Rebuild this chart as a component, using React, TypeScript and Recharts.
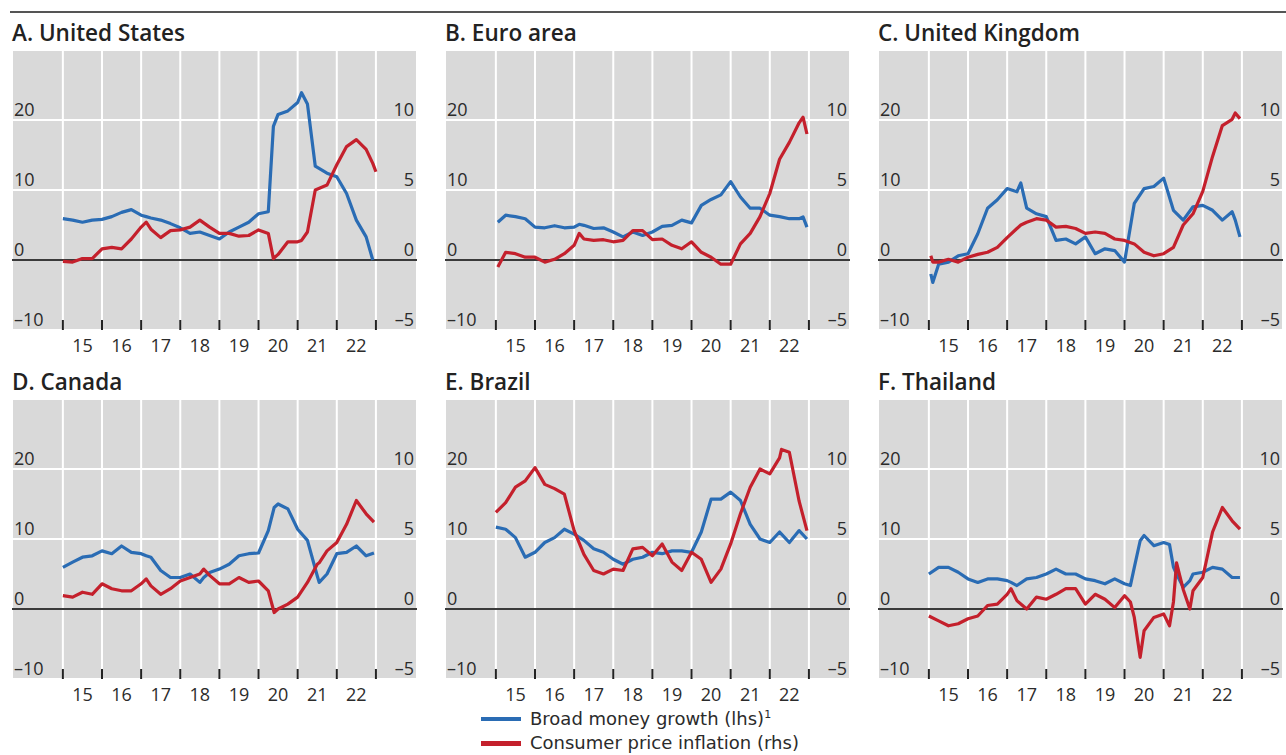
import React from "react"
import { LineChart, Line, XAxis, YAxis, CartesianGrid, ReferenceLine } from "recharts"

// x values are decimal years; lhs = broad money growth, rhs = CPI inflation
const usT = [2015.0, 2015.25, 2015.5, 2015.75, 2016.0, 2016.25, 2016.5, 2016.75, 2017.0, 2017.13, 2017.25, 2017.5, 2017.75, 2018.0, 2018.25, 2018.5, 2018.75, 2019.0, 2019.25, 2019.5, 2019.75, 2020.0, 2020.25, 2020.38, 2020.5, 2020.75, 2021.0, 2021.1, 2021.25, 2021.45, 2021.75, 2022.0, 2022.25, 2022.5, 2022.75, 2022.92, 2023.0]
const usMoney = [5.9, 5.7, 5.4, 5.7, 5.8, 6.2, 6.8, 7.2, 6.4, 6.2, 6.0, 5.7, 5.2, 4.6, 3.8, 4.0, 3.5, 3.0, 4.0, 4.7, 5.4, 6.6, 6.9, 19.1, 20.8, 21.3, 22.5, 23.9, 22.3, 13.4, 12.4, 11.9, 9.5, 5.7, 3.3, 0.0, null]
const usCpi = [-0.1, -0.15, 0.1, 0.1, 0.8, 0.9, 0.8, 1.5, 2.35, 2.7, 2.2, 1.6, 2.1, 2.15, 2.35, 2.85, 2.35, 1.9, 1.9, 1.7, 1.75, 2.15, 1.9, 0.1, 0.4, 1.3, 1.3, 1.4, 2.0, 5.0, 5.35, 6.8, 8.1, 8.6, 7.9, 6.9, 6.3]

const euT = [2015.05, 2015.25, 2015.5, 2015.75, 2016.0, 2016.25, 2016.5, 2016.75, 2017.0, 2017.13, 2017.25, 2017.5, 2017.75, 2018.0, 2018.25, 2018.5, 2018.75, 2019.0, 2019.25, 2019.5, 2019.75, 2020.0, 2020.25, 2020.5, 2020.75, 2021.0, 2021.25, 2021.5, 2021.75, 2022.0, 2022.25, 2022.5, 2022.75, 2022.85, 2022.95]
const euMoney = [5.4, 6.4, 6.2, 5.9, 4.7, 4.6, 4.9, 4.6, 4.7, 5.1, 4.95, 4.5, 4.6, 4.0, 3.3, 4.0, 3.5, 4.0, 4.8, 4.95, 5.7, 5.3, 7.8, 8.65, 9.3, 11.2, 9.0, 7.4, 7.4, 6.4, 6.2, 5.9, 5.9, 6.15, 4.7]
const euCpi = [-0.5, 0.55, 0.45, 0.2, 0.2, -0.15, 0.05, 0.45, 1.05, 1.9, 1.5, 1.4, 1.45, 1.3, 1.4, 2.1, 2.1, 1.45, 1.5, 1.05, 0.8, 1.3, 0.55, 0.2, -0.3, -0.3, 1.15, 1.9, 3.1, 4.75, 7.2, 8.4, 9.8, 10.2, 9.0]

const ukT = [2015.05, 2015.1, 2015.25, 2015.5, 2015.75, 2016.0, 2016.25, 2016.5, 2016.75, 2017.0, 2017.25, 2017.35, 2017.5, 2017.75, 2018.0, 2018.25, 2018.5, 2018.75, 2019.0, 2019.25, 2019.5, 2019.75, 2020.0, 2020.25, 2020.5, 2020.75, 2021.0, 2021.25, 2021.5, 2021.75, 2022.0, 2022.25, 2022.5, 2022.75, 2022.83, 2022.95]
const ukMoney = [-2.0, -3.2, -0.6, -0.3, 0.6, 0.9, 3.75, 7.4, 8.6, 10.2, 9.75, 11.0, 7.4, 6.6, 6.2, 2.8, 3.0, 2.3, 3.3, 0.9, 1.6, 1.35, -0.3, 8.1, 10.2, 10.5, 11.7, 7.1, 5.7, 7.6, 7.8, 7.1, 5.7, 6.9, 5.7, 3.3]
const ukCpi = [0.3, -0.15, -0.15, 0.05, -0.15, 0.2, 0.4, 0.55, 0.9, 1.6, 2.25, 2.5, 2.7, 2.95, 2.85, 2.35, 2.4, 2.25, 1.9, 2.0, 1.9, 1.5, 1.4, 1.15, 0.55, 0.3, 0.45, 0.9, 2.5, 3.3, 4.9, 7.4, 9.6, 10.05, 10.5, 10.1]

const caT = [2015.0, 2015.25, 2015.5, 2015.75, 2016.0, 2016.25, 2016.5, 2016.75, 2017.0, 2017.13, 2017.25, 2017.5, 2017.75, 2018.0, 2018.25, 2018.5, 2018.6, 2018.75, 2019.0, 2019.25, 2019.5, 2019.75, 2020.0, 2020.25, 2020.4, 2020.5, 2020.75, 2021.0, 2021.25, 2021.5, 2021.55, 2021.75, 2022.0, 2022.25, 2022.5, 2022.75, 2022.95]
const caMoney = [5.95, 6.7, 7.4, 7.6, 8.3, 7.9, 9.0, 8.1, 7.9, 7.6, 7.4, 5.5, 4.5, 4.5, 5.0, 3.8, 4.5, 5.2, 5.7, 6.4, 7.6, 7.9, 8.0, 11.2, 14.5, 15.0, 14.3, 11.4, 9.8, 4.75, 3.8, 5.0, 7.9, 8.1, 9.0, 7.6, 8.0]
const caCpi = [0.95, 0.85, 1.2, 1.05, 1.8, 1.45, 1.3, 1.3, 1.8, 2.15, 1.65, 1.05, 1.45, 2.0, 2.25, 2.5, 2.85, 2.4, 1.8, 1.8, 2.25, 1.9, 2.0, 1.3, -0.25, 0.0, 0.35, 0.85, 1.9, 3.2, 3.3, 4.15, 4.75, 6.05, 7.75, 6.8, 6.2]

const brT = [2015.0, 2015.25, 2015.5, 2015.75, 2016.0, 2016.25, 2016.5, 2016.75, 2017.0, 2017.25, 2017.5, 2017.75, 2018.0, 2018.25, 2018.5, 2018.75, 2019.0, 2019.25, 2019.5, 2019.75, 2020.0, 2020.25, 2020.5, 2020.75, 2021.0, 2021.25, 2021.5, 2021.75, 2022.0, 2022.25, 2022.3, 2022.5, 2022.75, 2022.95]
const brMoney = [11.7, 11.4, 10.2, 7.4, 8.1, 9.5, 10.2, 11.4, 10.7, 9.8, 8.6, 8.1, 7.1, 6.4, 7.1, 7.4, 8.1, 7.9, 8.3, 8.3, 8.1, 11.0, 15.7, 15.7, 16.7, 15.5, 12.1, 10.0, 9.5, 11.0, 10.7, 9.5, 11.2, 10.0]
const brCpi = [6.9, 7.6, 8.7, 9.15, 10.1, 8.9, 8.6, 8.2, 5.6, 3.9, 2.75, 2.5, 2.85, 2.75, 4.3, 4.4, 3.8, 4.65, 3.35, 2.75, 4.05, 3.55, 1.9, 2.85, 4.65, 6.8, 8.7, 10.0, 9.65, 10.8, 11.4, 11.2, 7.7, 5.6]

const thT = [2015.0, 2015.25, 2015.5, 2015.75, 2016.0, 2016.25, 2016.5, 2016.75, 2017.0, 2017.1, 2017.25, 2017.5, 2017.75, 2018.0, 2018.25, 2018.5, 2018.75, 2019.0, 2019.25, 2019.5, 2019.75, 2020.0, 2020.15, 2020.25, 2020.4, 2020.5, 2020.75, 2021.0, 2021.15, 2021.25, 2021.33, 2021.5, 2021.67, 2021.75, 2022.0, 2022.25, 2022.5, 2022.75, 2022.95]
const thMoney = [5.0, 5.95, 5.95, 5.25, 4.3, 3.8, 4.3, 4.3, 4.05, 3.8, 3.35, 4.3, 4.5, 5.0, 5.7, 5.0, 5.0, 4.3, 4.05, 3.6, 4.3, 3.6, 3.35, 5.95, 9.75, 10.5, 9.05, 9.5, 9.2, 6.0, 5.0, 3.1, 4.05, 5.0, 5.25, 5.95, 5.7, 4.5, 4.5]
const thCpi = [-0.5, -0.85, -1.2, -1.05, -0.7, -0.5, 0.25, 0.35, 1.05, 1.45, 0.6, 0.0, 0.85, 0.7, 1.05, 1.45, 1.45, 0.35, 1.05, 0.7, 0.1, 0.95, 0.5, -0.6, -3.45, -1.55, -0.6, -0.35, -1.2, 0.5, 3.3, 1.4, 0.0, 1.3, 2.25, 5.5, 7.25, 6.3, 5.7]

const yearTicks = [2015, 2016, 2017, 2018, 2019, 2020, 2021, 2022, 2023]
const leftTicks = [-10, 0, 10, 20]
const rightTicks = [-5, 0, 5, 10]

const FONT = '"Open Sans", "Noto Sans", sans-serif'
const LEGEND_FONT = '"DejaVu Sans", "Open Sans", sans-serif'
const BLUE = "#2a6cb4"
const RED = "#c4202c"
const TEXT = "#2b2b2b"
const X_DOMAIN = [2013.7, 2024.05]
const PLOT_W = 405
const PLOT_H = 280
const AXIS_H = 30
const HALF_YEAR = PLOT_W / (X_DOMAIN[1] - X_DOMAIN[0]) / 2

const fmt = (v: number) => (v < 0 ? `\u2013${Math.abs(v)}` : `${v}`)

function LeftTick(props: any) {
  return (
    <text x={2} y={props.y - 4} textAnchor="start" fontSize={18} fill={TEXT} fontFamily={FONT}>
      {fmt(props.payload.value)}
    </text>
  )
}

function RightTick(props: any) {
  return (
    <text x={PLOT_W - 3} y={props.y - 4} textAnchor="end" fontSize={18} fill={TEXT} fontFamily={FONT}>
      {fmt(props.payload.value)}
    </text>
  )
}

function YearTick(props: any) {
  const { x, payload } = props
  const v = payload.value
  return (
    <g>
      <line x1={x} x2={x} y1={PLOT_H - 10} y2={PLOT_H} stroke="#222" strokeWidth={2} />
      {v < 2023 && (
        <text x={x + HALF_YEAR} y={PLOT_H + 22} textAnchor="middle" fontSize={18} fill={TEXT} fontFamily={FONT}>
          {v - 2000}
        </text>
      )}
    </g>
  )
}

interface PanelProps {
  title: string
  t: number[]
  money: (number | null)[]
  cpi: (number | null)[]
  left: number
  top: number
}

function Panel({ title, t, money, cpi, left, top }: PanelProps) {
  const data = t.map((x, i) => ({ t: x, money: money[i], cpi: cpi[i] }))
  return (
    <>
      <div
        style={{
          position: "absolute",
          left,
          top: top - 28,
          fontFamily: FONT,
          fontSize: 22.5,
          fontWeight: 600,
          lineHeight: 1,
          color: "#222",
          whiteSpace: "nowrap",
        }}
      >
        {title}
      </div>
      <div style={{ position: "absolute", left, top }}>
        <LineChart width={PLOT_W} height={PLOT_H + AXIS_H} data={data} margin={{ top: 0, right: 0, bottom: 0, left: 0 }}>
          <CartesianGrid yAxisId="l" fill="#d9d9d9" fillOpacity={1} stroke="#ffffff" strokeWidth={2} />
          <XAxis
            dataKey="t"
            type="number"
            domain={X_DOMAIN}
            ticks={yearTicks}
            interval={0}
            tick={<YearTick />}
            tickLine={false}
            axisLine={false}
            height={AXIS_H}
            allowDataOverflow
          />
          <YAxis yAxisId="l" domain={[-10, 30]} ticks={leftTicks} mirror interval={0} axisLine={false} tickLine={false} tick={<LeftTick />} allowDataOverflow />
          <YAxis yAxisId="r" orientation="right" domain={[-5, 15]} ticks={rightTicks} mirror interval={0} axisLine={false} tickLine={false} tick={<RightTick />} allowDataOverflow />
          <ReferenceLine yAxisId="l" y={0} stroke="#3a3a3a" strokeWidth={2} />
          <Line yAxisId="l" type="linear" dataKey="money" stroke={BLUE} strokeWidth={3.2} dot={false} isAnimationActive={false} strokeLinejoin="round" />
          <Line yAxisId="r" type="linear" dataKey="cpi" stroke={RED} strokeWidth={3.2} dot={false} isAnimationActive={false} strokeLinejoin="round" />
        </LineChart>
      </div>
    </>
  )
}

export default function App() {
  return (
    <div style={{ position: "absolute", left: 0, top: 0, width: 1286, height: 755, background: "#fff", overflow: "hidden" }}>
      <div style={{ position: "absolute", left: 10, top: 11, width: 1276, height: 2, background: "#555" }} />
      <Panel title="A. United States" t={usT} money={usMoney} cpi={usCpi} left={12} top={50} />
      <Panel title="B. Euro area" t={euT} money={euMoney} cpi={euCpi} left={445} top={50} />
      <Panel title="C. United Kingdom" t={ukT} money={ukMoney} cpi={ukCpi} left={878} top={50} />
      <Panel title="D. Canada" t={caT} money={caMoney} cpi={caCpi} left={12} top={399} />
      <Panel title="E. Brazil" t={brT} money={brMoney} cpi={brCpi} left={445} top={399} />
      <Panel title="F. Thailand" t={thT} money={thMoney} cpi={thCpi} left={878} top={399} />
      <div style={{ position: "absolute", left: 481, top: 708, fontFamily: LEGEND_FONT, fontSize: 18, color: TEXT, lineHeight: "22px" }}>
        <div style={{ display: "flex", alignItems: "center", height: 22 }}>
          <span style={{ display: "inline-block", width: 40, height: 4, background: BLUE, marginRight: 9 }} />
          <span style={{ whiteSpace: "nowrap" }}>
            Broad money growth (lhs)<sup style={{ fontSize: 11, lineHeight: 0, verticalAlign: "7px" }}>1</sup>
          </span>
        </div>
        <div style={{ display: "flex", alignItems: "center", height: 22, marginTop: 2 }}>
          <span style={{ display: "inline-block", width: 40, height: 5, background: RED, marginRight: 9 }} />
          <span style={{ whiteSpace: "nowrap" }}>Consumer price inflation (rhs)</span>
        </div>
      </div>
    </div>
  )
}
